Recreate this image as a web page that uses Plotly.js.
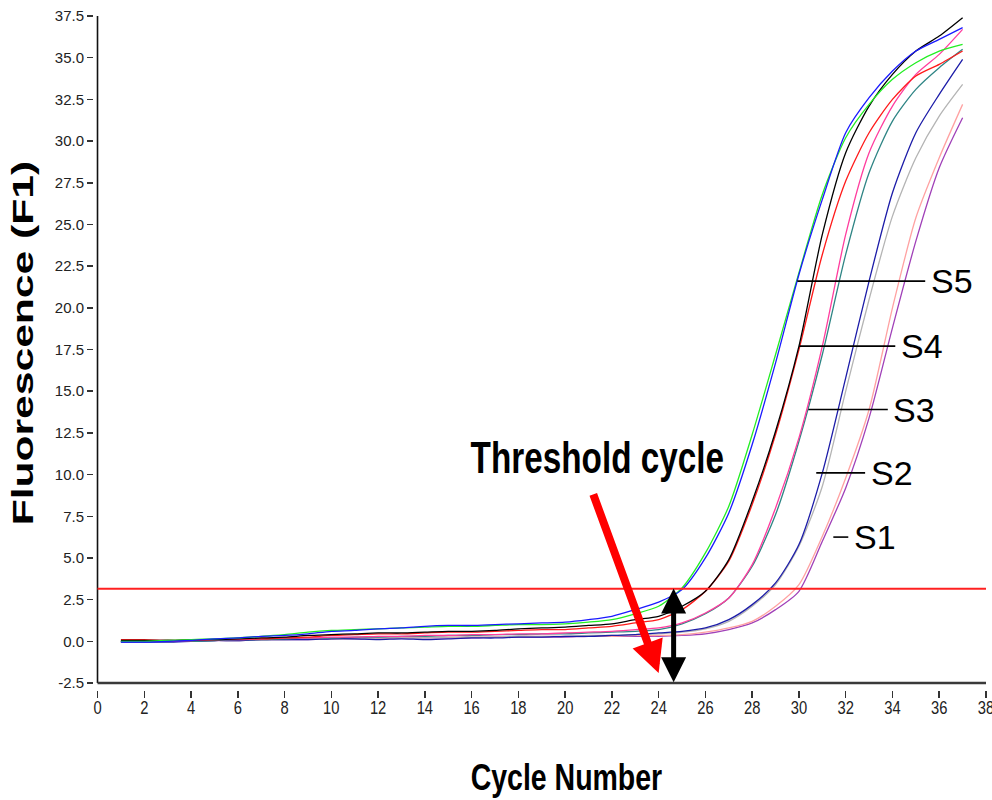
<!DOCTYPE html>
<html>
<head>
<meta charset="utf-8">
<script src="https://cdn.plot.ly/plotly-3.0.1.min.js"></script>
<style>
  html, body { margin: 0; padding: 0; background: #ffffff; }
  #chart { width: 992px; height: 800px; }
</style>
</head>
<body>
<div id="chart"></div>
<script>
// ---- data ----
const cycles = [1,2,3,4,5,6,7,8,9,10,11,12,13,14,15,16,17,18,19,20,21,22,23,24,25,26,27,28,29,30,31,32,33,34,35,36,37];

const s5Blue  = [-0.05,-0.05,0.0,0.05,0.15,0.2,0.3,0.35,0.45,0.6,0.65,0.75,0.8,0.9,0.95,0.95,1.0,1.05,1.1,1.15,1.3,1.5,1.9,2.35,3.1,5.0,7.7,11.8,16.7,22.0,26.5,30.5,32.6,34.2,35.4,36.1,36.8];
const s5Green = [0.0,0.0,0.05,0.1,0.15,0.2,0.3,0.4,0.55,0.65,0.7,0.75,0.8,0.85,0.9,0.9,0.95,1.0,1.0,1.05,1.15,1.3,1.65,2.1,3.2,5.3,8.1,12.4,17.2,22.1,26.8,30.2,32.2,33.7,34.7,35.4,35.8];
const s4Black = [0.05,0.05,0.05,0.1,0.1,0.15,0.2,0.25,0.35,0.4,0.45,0.5,0.5,0.55,0.6,0.6,0.65,0.75,0.8,0.85,0.95,1.05,1.3,1.5,2.1,3.0,4.9,8.4,12.6,17.7,24.4,29.3,32.1,34.0,35.4,36.3,37.4];
const s4Red   = [0.1,0.1,0.05,0.05,0.1,0.15,0.15,0.2,0.25,0.35,0.4,0.45,0.45,0.5,0.55,0.55,0.6,0.65,0.7,0.7,0.8,0.9,1.1,1.3,1.9,3.0,4.8,8.2,12.4,17.5,23.2,27.6,30.5,32.5,33.9,34.6,35.4];
const s3Pink  = [0.0,0.0,0.0,0.05,0.1,0.1,0.15,0.2,0.2,0.25,0.25,0.3,0.3,0.35,0.35,0.4,0.4,0.45,0.45,0.5,0.55,0.6,0.7,0.8,1.1,1.7,2.6,4.6,8.0,12.2,17.7,24.4,29.3,32.1,34.0,35.2,36.7];
const s3Teal  = [0.0,0.0,0.05,0.0,0.05,0.1,0.1,0.15,0.2,0.2,0.25,0.25,0.3,0.3,0.35,0.35,0.4,0.4,0.45,0.45,0.5,0.55,0.6,0.7,1.05,1.65,2.6,4.5,7.6,12.0,17.2,23.2,28.1,31.2,33.1,34.4,35.5];
const s2Navy  = [-0.05,-0.05,-0.05,0.0,0.05,0.05,0.1,0.1,0.1,0.15,0.15,0.1,0.15,0.1,0.15,0.2,0.2,0.25,0.25,0.3,0.3,0.35,0.4,0.5,0.6,0.8,1.3,2.2,3.5,5.8,10.1,15.8,21.6,26.9,30.5,32.8,34.9];
const s2Gray  = [0.0,0.0,0.0,0.0,0.05,0.05,0.1,0.1,0.15,0.15,0.15,0.2,0.2,0.2,0.25,0.25,0.25,0.3,0.3,0.3,0.35,0.35,0.4,0.45,0.55,0.75,1.2,2.1,3.4,5.7,9.3,15.0,20.5,25.5,29.0,31.5,33.4];
const s1LightPink = [0.05,0.05,0.05,0.05,0.1,0.1,0.1,0.15,0.15,0.15,0.2,0.2,0.2,0.25,0.25,0.25,0.25,0.3,0.3,0.3,0.3,0.3,0.35,0.35,0.4,0.55,0.8,1.2,2.1,3.4,6.3,9.8,13.9,20.0,25.4,29.0,32.2];
const s1Purple = [0.0,0.0,0.0,0.05,0.05,0.05,0.1,0.1,0.1,0.15,0.15,0.15,0.2,0.2,0.2,0.2,0.25,0.25,0.25,0.25,0.3,0.3,0.3,0.3,0.35,0.45,0.7,1.1,1.9,3.0,6.0,9.2,13.4,18.8,24.0,28.4,31.4];

const thresholdValue = 3.15;

const xTickVals = [0,2,4,6,8,10,12,14,16,18,20,22,24,26,28,30,32,34,36,38];
const xTickText = ["0","2","4","6","8","10","12","14","16","18","20","22","24","26","28","30","32","34","36","38"];
const yTickVals = [-2.5,0,2.5,5,7.5,10,12.5,15,17.5,20,22.5,25,27.5,30,32.5,35,37.5];
const yTickText = ["-2.5","0.0","2.5","5.0","7.5","10.0","12.5","15.0","17.5","20.0","22.5","25.0","27.5","30.0","32.5","35.0","37.5"];

// sample labels and their pointer lines
const sampleLabels = ["S5","S4","S3","S2","S1"];
const labelLevels  = [21.6, 17.7, 13.9, 10.1, 6.25];
const labelLineStart = [29.93, 30.01, 30.4, 30.74, 31.47];
const labelLineEnd   = [35.4, 34.12, 33.8, 32.83, 32.11];

// ---- traces ----
const series = [
  {y: s1Purple,    color: '#a040b8'},
  {y: s1LightPink, color: '#ffa2a2'},
  {y: s2Gray,      color: '#b4b4b4'},
  {y: s2Navy,      color: '#1c1ca8'},
  {y: s3Teal,      color: '#2f8585'},
  {y: s3Pink,      color: '#ff3d9e'},
  {y: s4Red,       color: '#ff1a1a'},
  {y: s4Black,     color: '#000000'},
  {y: s5Green,     color: '#22ee22'},
  {y: s5Blue,      color: '#1a1aff'}
];

const traces = series.map(s => ({
  type: 'scatter',
  mode: 'lines',
  x: cycles,
  y: s.y,
  line: {color: s.color, width: 1.3, shape: 'spline', smoothing: 0.7},
  hoverinfo: 'skip',
  showlegend: false
}));

// ---- shapes ----
const shapes = [
  {type: 'line', xref: 'x', yref: 'y', x0: 0, x1: 0, y0: -2.5, y1: 37.5,
   line: {color: '#111111', width: 1.6}},
  {type: 'line', xref: 'x', yref: 'y', x0: 0, x1: 38, y0: -2.5, y1: -2.5,
   line: {color: '#3a3a3a', width: 2.5}},
  {type: 'line', xref: 'x', yref: 'y', x0: 0, x1: 38, y0: thresholdValue, y1: thresholdValue,
   line: {color: '#ff2020', width: 2}}
];
sampleLabels.forEach((lab, i) => {
  shapes.push({type: 'line', xref: 'x', yref: 'y',
    x0: labelLineStart[i], x1: labelLineEnd[i], y0: labelLevels[i], y1: labelLevels[i],
    line: {color: '#000000', width: 1.6}});
});

// ---- annotations ----
const annotations = [];
const stretch = {};   // annotation index -> horizontal scale of its glyphs
sampleLabels.forEach((lab, i) => {
  annotations.push({xref: 'x', yref: 'y', x: labelLineEnd[i] + 0.15, y: labelLevels[i],
    xanchor: 'left', yanchor: 'middle', showarrow: false, text: lab,
    font: {family: 'Liberation Sans, Arial, sans-serif', size: 34, color: '#000000'}});
});
stretch[annotations.length] = 0.74;
annotations.push({xref: 'x', yref: 'y', x: 21.4, y: 11.05, showarrow: false,
  text: 'Threshold cycle', xanchor: 'center', yanchor: 'middle',
  font: {family: 'Liberation Sans, Arial, sans-serif', size: 45, weight: 'bold', color: '#000000'}});
annotations.push({xref: 'x', yref: 'y', axref: 'x', ayref: 'y',
  x: 24.0, y: -1.9, ax: 21.18, ay: 8.9, text: '', showarrow: true,
  arrowcolor: '#ff0000', arrowwidth: 8, arrowhead: 2, arrowsize: 0.8, standoff: 0});
annotations.push({xref: 'x', yref: 'y', axref: 'x', ayref: 'y',
  x: 24.64, y: -2.45, ax: 24.64, ay: 3.25, text: '', showarrow: true,
  arrowcolor: '#000000', arrowwidth: 5, arrowhead: 2, arrowsize: 1,
  arrowside: 'end+start', startarrowhead: 2, startarrowsize: 1, standoff: 0, startstandoff: 0});
stretch[annotations.length] = 0.77;
annotations.push({xref: 'paper', yref: 'paper', x: (566 - 94) / 892, y: (690 - 777) / 674,
  xanchor: 'center', yanchor: 'middle', showarrow: false, text: 'Cycle Number',
  font: {family: 'Liberation Sans, Arial, sans-serif', size: 37, weight: 'bold', color: '#000000'}});
stretch[annotations.length] = 1.42;
annotations.push({xref: 'paper', yref: 'paper', x: (22.5 - 94) / 892, y: (690 - 343) / 674,
  xanchor: 'center', yanchor: 'middle', showarrow: false, text: 'Fluorescence (F1)', textangle: -90,
  font: {family: 'Liberation Sans, Arial, sans-serif', size: 30, weight: 'bold', color: '#000000'}});

const layout = {
  width: 992, height: 800,
  margin: {l: 94, r: 6, t: 16, b: 110},
  paper_bgcolor: '#ffffff', plot_bgcolor: '#ffffff',
  showlegend: false,
  xaxis: {
    range: [-0.15, 38], showgrid: false, zeroline: false, showline: false,
    tickmode: 'array', tickvals: xTickVals, ticktext: xTickText,
    ticks: 'outside', ticklen: 7, tickwidth: 1.5, tickcolor: '#333333',
    ticklabeloverflow: 'allow', ticklabelstandoff: -6,
    tickfont: {family: 'Liberation Sans, Arial, sans-serif', size: 18, color: '#222222'},
    fixedrange: true
  },
  yaxis: {
    range: [-2.92, 37.5], showgrid: false, zeroline: false, showline: false,
    tickmode: 'array', tickvals: yTickVals, ticktext: yTickText,
    ticks: 'outside', ticklen: 6, tickwidth: 1.5, tickcolor: '#333333',
    tickfont: {family: 'Liberation Sans, Arial, sans-serif', size: 15, color: '#222222'},
    fixedrange: true
  },
  shapes: shapes,
  annotations: annotations
};

Plotly.newPlot('chart', traces, layout, {displayModeBar: false, staticPlot: true}).then(gd => {
  // condense / widen glyphs like the reference lettering, each around its own centre
  gd.querySelectorAll('g.annotation').forEach(g => {
    const k = stretch[g.getAttribute('data-index')];
    if (!k) return;
    const t = g.querySelector('text.annotation-text');
    if (!t) return;
    t.style.transformBox = 'fill-box';
    t.style.transformOrigin = 'center';
    t.style.transform = 'scaleX(' + k + ')';
  });
  gd.querySelectorAll('g.xtick').forEach(g => {
    g.style.transformBox = 'fill-box';
    g.style.transformOrigin = 'center';
    g.style.transform = 'scaleX(0.82)';
  });
});
</script>
</body>
</html>
